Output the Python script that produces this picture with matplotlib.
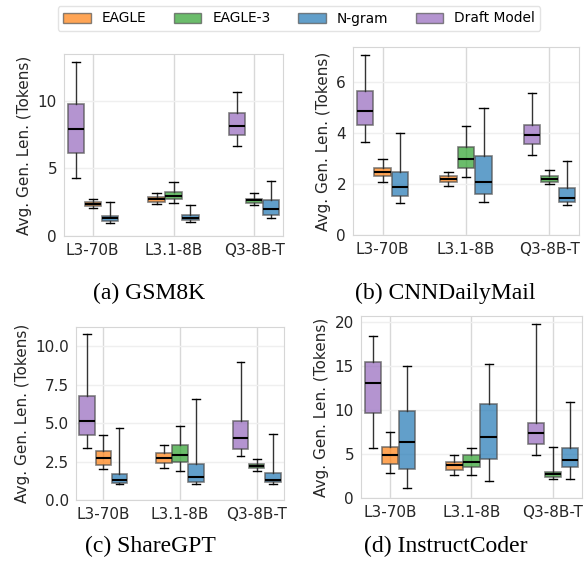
import matplotlib
matplotlib.use("Agg")
import matplotlib.pyplot as plt
from matplotlib.patches import Patch

plt.rcParams["font.family"] = ["DejaVu Sans"]

# groups on the x axis and the methods drawn in each group
groups = ["L3-70B", "L3.1-8B", "Q3-8B-T"]
methods = ["EAGLE", "EAGLE-3", "N-gram", "Draft Model"]
present = [["Draft Model", "EAGLE", "N-gram"],
           ["EAGLE", "EAGLE-3", "N-gram"],
           ["Draft Model", "EAGLE-3", "N-gram"]]

# box stats per box: (whisker low, q1, median, q3, whisker high)
gsm8k = [[(4.32, 6.12, 7.90, 9.78, 12.86), (2.05, 2.22, 2.37, 2.54, 2.72), (0.99, 1.11, 1.31, 1.51, 2.49)],
         [(2.40, 2.54, 2.74, 2.91, 3.21), (2.42, 2.72, 2.99, 3.28, 4.02), (1.06, 1.19, 1.36, 1.53, 2.30)],
         [(6.62, 7.46, 8.12, 9.09, 10.64), (2.27, 2.44, 2.64, 2.77, 3.19), (1.31, 1.58, 2.02, 2.67, 4.05)]]
cnndm = [[(3.62, 4.31, 4.84, 5.64, 7.06), (2.09, 2.30, 2.46, 2.63, 2.97), (1.24, 1.51, 1.88, 2.47, 4.01)],
         [(1.91, 2.07, 2.20, 2.30, 2.47), (2.25, 2.64, 2.99, 3.46, 4.27), (1.29, 1.61, 2.07, 3.09, 4.97)],
         [(3.14, 3.55, 3.92, 4.31, 5.57), (1.98, 2.08, 2.20, 2.29, 2.55), (1.16, 1.29, 1.46, 1.82, 2.90)]]
sharegpt = [[(3.41, 4.23, 5.12, 6.75, 10.76), (2.00, 2.30, 2.71, 3.19, 4.23), (1.02, 1.11, 1.32, 1.71, 4.71)],
            [(2.06, 2.39, 2.71, 3.06, 3.60), (1.91, 2.47, 2.93, 3.56, 4.79), (1.04, 1.17, 1.48, 2.36, 6.59)],
            [(2.89, 3.32, 4.03, 5.12, 9.00), (1.89, 2.06, 2.21, 2.36, 2.69), (1.06, 1.15, 1.28, 1.76, 4.27)]]
instructcoder = [[(5.67, 9.68, 13.01, 15.39, 18.41), (2.80, 3.86, 4.88, 5.78, 7.45), (1.13, 3.29, 6.35, 9.91, 15.01)],
                 [(2.65, 3.21, 3.71, 4.05, 4.84), (2.65, 3.52, 4.12, 4.84, 5.71), (1.89, 4.46, 6.88, 10.66, 15.20)],
                 [(4.91, 6.12, 7.33, 8.47, 19.70), (2.15, 2.42, 2.68, 2.91, 5.82), (2.15, 3.48, 4.35, 5.63, 10.85)]]

datasets = [("(a) GSM8K", gsm8k), ("(b) CNNDailyMail", cnndm),
            ("(c) ShareGPT", sharegpt), ("(d) InstructCoder", instructcoder)]

colors = {"EAGLE": "tab:orange", "EAGLE-3": "tab:green",
          "N-gram": "tab:blue", "Draft Model": "tab:purple"}

# axes boxes in pixels: left, top, right, bottom
W, H = 586, 567
boxes = [(64, 54, 283, 236), (353, 47, 579, 235),
         (76, 327, 284, 500), (361, 316, 582, 498)]
captions_xy = [(149, 293), (445, 293), (150, 546), (446, 546)]

fig = plt.figure(figsize=(W / 100, H / 100), dpi=100)

for (title, data), (l, t, r, b), (cx, cy) in zip(datasets, boxes, captions_xy):
    ax = fig.add_axes([l / W, 1 - b / H, (r - l) / W, (b - t) / H])
    for gi, grp in enumerate(data):
        for k, (m, s) in enumerate(zip(present[gi], grp)):
            st = dict(whislo=s[0], q1=s[1], med=s[2], q3=s[3], whishi=s[4], fliers=[])
            pos = gi + (k - 1) * 0.21
            art = ax.bxp([st], positions=[pos], widths=0.2, patch_artist=True,
                         showfliers=False,
                         boxprops=dict(facecolor=colors[m], alpha=0.7, lw=1.2),
                         medianprops=dict(color="black", lw=1.5),
                         whiskerprops=dict(color="#333333", lw=1.0),
                         capprops=dict(color="black", lw=1.0),
                         capwidths=0.1)
            for bx in art["boxes"]:
                bx.set_edgecolor((0.3, 0.3, 0.3, 0.8))
    ax.set_xlim(-0.355, 2.355)
    ax.set_ylim(bottom=0)
    ax.set_xticks(range(len(groups)))
    ax.set_xticklabels(groups)
    ax.set_axisbelow(True)
    ax.grid(axis="x", color="#d8d8d8", lw=1.0)
    ax.grid(axis="y", color="#efefef", lw=1.0)
    for sp in ax.spines.values():
        sp.set_color("#d6d6d6")
    ax.tick_params(length=0, labelsize=11, colors="#262626", pad=5)
    ax.set_ylabel("Avg. Gen. Len. (Tokens)", fontsize=11, color="#262626")
    fig.text(cx / W, 1 - cy / H, title, ha="center", va="center",
             family="Liberation Serif", fontsize=17)

handles = [Patch(facecolor=colors[m], edgecolor="#555555", alpha=0.7) for m in methods]
fig.legend(handles, methods, loc="center", bbox_to_anchor=(299 / W, 1 - 18.5 / H),
           ncol=4, fontsize=9.9, frameon=True, edgecolor="#dddddd",
           handlelength=2.0, columnspacing=2.0, borderpad=0.4)

fig.savefig("out.png", dpi=100)
